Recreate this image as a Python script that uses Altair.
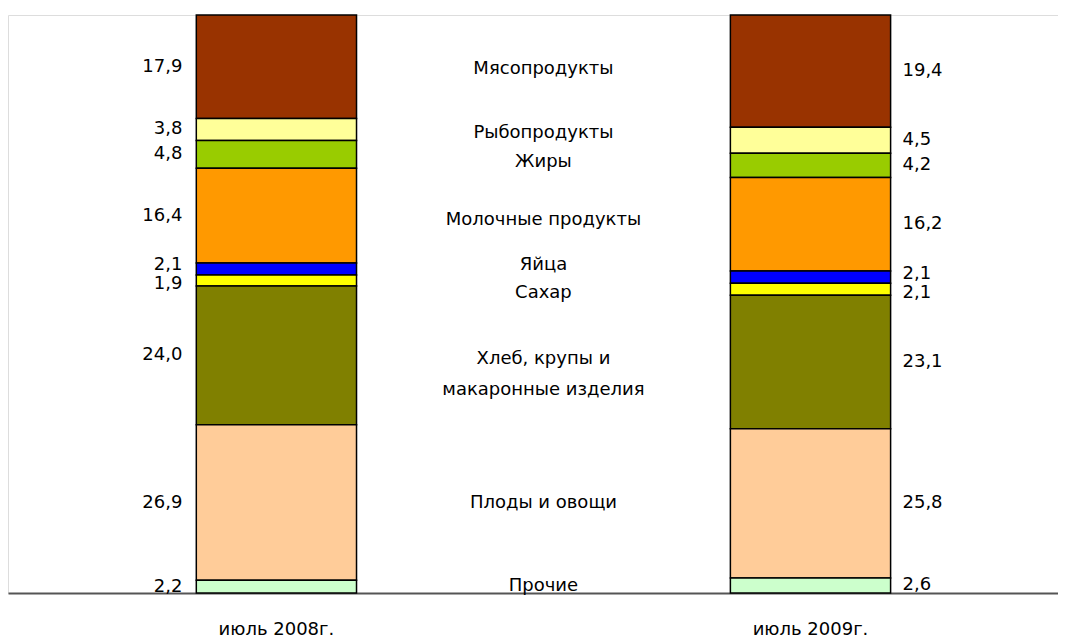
import altair as alt
import pandas as pd

# ---- data ----
categories = ["Мясопродукты", "Рыбопродукты", "Жиры", "Молочные продукты", "Яйца",
              "Сахар", "Хлеб, крупы и макаронные изделия", "Плоды и овощи", "Прочие"]
mid_labels = ["Мясопродукты", "Рыбопродукты", "Жиры", "Молочные продукты", "Яйца",
              "Сахар", "Хлеб, крупы и\nмакаронные изделия", "Плоды и овощи", "Прочие"]
values_2008 = [17.9, 3.8, 4.8, 16.4, 2.1, 1.9, 24.0, 26.9, 2.2]
values_2009 = [19.4, 4.5, 4.2, 16.2, 2.1, 2.1, 23.1, 25.8, 2.6]
periods = ["июль 2008г.", "июль 2009г."]
colors = ["#993300", "#FFFF99", "#99CC00", "#FF9900", "#0000FF",
          "#FFFF00", "#808000", "#FFCC99", "#CCFFCC"]
MID = "mid"

FONT = "DejaVu Sans"
FS = 18
TXT = "#000000"


def spread(centers, gap, iters=60):
    pos = list(centers)
    for _ in range(iters):
        for i in range(len(pos) - 1):
            if pos[i] - pos[i + 1] < gap:
                m = (pos[i] + pos[i + 1]) / 2
                pos[i] = m + gap / 2
                pos[i + 1] = m - gap / 2
    return pos


def stack(vals):
    # categories listed top -> bottom; compute extents from the bottom
    below = 0.0
    out = [None] * len(vals)
    for i in range(len(vals) - 1, -1, -1):
        out[i] = (below, below + vals[i])
        below += vals[i]
    return out


rows = []
centers = {}
for period, vals in zip(periods, [values_2008, values_2009]):
    st = stack(vals)
    c = [(a + b) / 2 for a, b in st]
    centers[period] = c
    ly = spread(c, 3.3)
    for i, cat in enumerate(categories):
        rows.append({
            "period": period, "category": cat, "value": vals[i],
            "y0": st[i][0], "y1": st[i][1], "ly": ly[i],
            "label": f"{vals[i]:.1f}".replace(".", ","),
        })
df = pd.DataFrame(rows)

mid_c = [(a + b) / 2 for a, b in zip(centers[periods[0]], centers[periods[1]])]
mid_y = spread(mid_c, 5.0)
mid_df = pd.DataFrame({"period": MID, "text": mid_labels, "ly": mid_y})

xscale = alt.Scale(domain=[periods[0], MID, periods[1]], paddingInner=0,
                   paddingOuter=0.466, align=0.542)
xaxis = alt.Axis(title=None, labelExpr=f"datum.value == '{MID}' ? '' : datum.label",
                 domainColor="#555555", domainWidth=2, ticks=False, tickSize=0,
                 labelPadding=27, labelFontSize=FS, labelFont=FONT,
                 labelColor=TXT, labelAngle=0)
x_enc = alt.X("period:N", scale=xscale, axis=xaxis)
yscale = alt.Scale(domain=[0, 100], nice=False, zero=True)

bars = alt.Chart(df).mark_bar(stroke="black", strokeWidth=1.5, width={"band": 0.6}).encode(
    x=x_enc,
    y=alt.Y("y1:Q", scale=yscale, axis=None),
    y2="y0:Q",
    color=alt.Color("category:N", scale=alt.Scale(domain=categories, range=colors), legend=None),
)

left = alt.Chart(df[df["period"] == periods[0]]).mark_text(
    align="right", baseline="middle", dx=-94, font=FONT, fontSize=FS, color=TXT
).encode(x=x_enc, y=alt.Y("ly:Q", scale=yscale, axis=None), text="label:N")

right = alt.Chart(df[df["period"] == periods[1]]).mark_text(
    align="left", baseline="middle", dx=92, font=FONT, fontSize=FS, color=TXT
).encode(x=x_enc, y=alt.Y("ly:Q", scale=yscale, axis=None), text="label:N")

mid = alt.Chart(mid_df).mark_text(
    align="center", baseline="middle", font=FONT, fontSize=FS, color=TXT,
    lineBreak="\n", lineHeight=31
).encode(x=x_enc, y=alt.Y("ly:Q", scale=yscale, axis=None), text="text:N")

chart = alt.layer(bars, left, right, mid).properties(
    width=1050, height=578,
    padding={"left": 0, "top": 6, "right": 0, "bottom": 2},
).configure_view(stroke=None).configure(background="white")

chart.save("out.html", embed_options={"renderer": "svg", "actions": False})
